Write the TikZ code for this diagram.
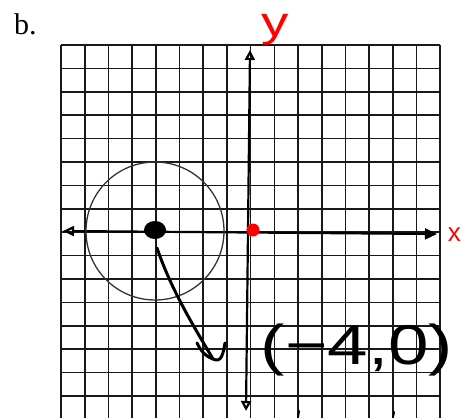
\documentclass[tikz,border=0pt]{standalone}
\usepackage{fontspec}
\setmainfont{Liberation Serif}
\newfontfamily\handfont{Liberation Sans}
\usetikzlibrary{arrows.meta,shapes.geometric}
\tikzset{
  gridline/.style={line width=1.6pt, black!90},
  axisline/.style={line width=2.2pt, black},
  ring/.style={line width=1.3pt, black!80},
  blackdot/.style={ellipse, fill=black, minimum width=22pt, minimum height=18pt, inner sep=0pt},
  reddot/.style={circle, fill=red, minimum size=13pt, inner sep=0pt},
  hand/.style={line width=3pt, black, line cap=round, line join=round},
  redtext/.style={text=red, font=\handfont\fontsize{42}{42}\selectfont, inner sep=0pt},
  blacktext/.style={text=black, font=\handfont\fontsize{56}{56}\selectfont, inner sep=0pt},
  labeltext/.style={font=\fontsize{30}{30}\selectfont, inner sep=0pt}
}
\begin{document}
\begin{tikzpicture}[x=1pt,y=-1pt]
\useasboundingbox (0,0) rectangle (462,417);
\fill[white] (0,0) rectangle (462,417);
\clip (0,0) rectangle (462,417);
% label
\node[labeltext, anchor=base west] (lab) at (14,35) {b.};
% grid
\foreach \k in {0,...,16} {
  \draw[gridline] ({61+23.7*\k},45) -- ({61+23.7*\k},425);
  \draw[gridline] (61,{45+23.4*\k}) -- (440,{45+23.4*\k});
}
% axes
\coordinate (ytop) at (250,50);
\coordinate (ybot) at (246,411);
\coordinate (xleft) at (63,231);
\coordinate (xright) at (437,234);
\draw[axisline, {Triangle[open,length=10pt,width=10pt]}-{Triangle[open,length=10pt,width=10pt]}] (ytop) -- (ybot);
\draw[axisline, {Triangle[open,length=11pt,width=10pt]}-{Triangle[length=12pt,width=11pt]}] (xleft) -- (xright);
% circle
\draw[ring] (155,231) circle[radius=69];
% points
\node[blackdot] (dot) at (155,230) {};
\node[reddot] (origin) at (253,230) {};
% handwritten arrow
\coordinate (pstart) at (157,248);
\coordinate (hookbot) at (213,359);
\coordinate (hookright) at (225,343);
\coordinate (hookleft) at (197,343);
\draw[hand] (pstart) .. controls (172,292) and (196,330) .. (hookbot)
  .. controls (221,363) and (223,355) .. (hookright);
\draw[hand] (hookleft) .. controls (200,350) and (205,356) .. (hookbot);
% handwritten texts
\node[blacktext, anchor=base, xscale=1.3] (pt) at (357,364) {(−4,0)};
\node[redtext, anchor=base, xscale=1.3] (ylab) at (275,37) {y};
\node[redtext, anchor=base east, font=\handfont\fontsize{26}{26}\selectfont] (xlab) at (461,241) {x};
% small marks at bottom edge
\draw[hand, line width=2pt] (298,417) -- (299,411);
\draw[hand, line width=2pt] (393,417) -- (394,412);
\end{tikzpicture}
\end{document}
